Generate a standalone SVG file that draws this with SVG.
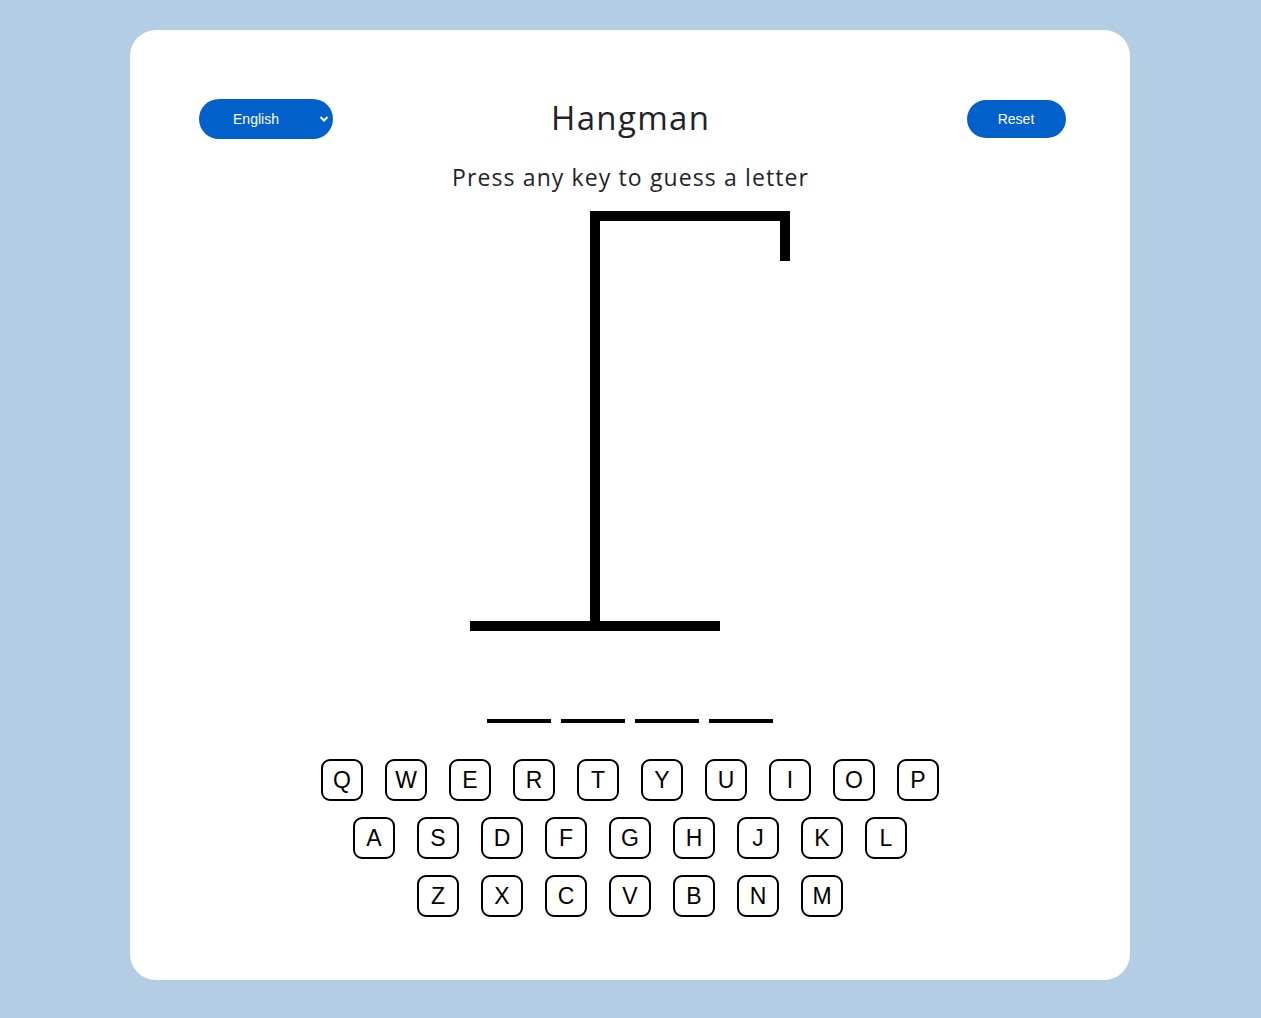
<svg xmlns="http://www.w3.org/2000/svg" width="1261" height="1018" viewBox="0 0 1261 1018">
<style>
.btn{fill:#0160c9}
.btxt{font-family:"Liberation Sans",Arial,sans-serif;font-size:14px;fill:#fff;text-anchor:middle}
.key rect{fill:#fff;stroke:#000;stroke-width:2}
.key text{font-family:"Liberation Sans",Arial,sans-serif;font-size:23px;fill:#000;text-anchor:middle}
.bar{fill:#000}
</style>
<rect x="0" y="0" width="1261" height="1018" fill="#b3cee4"/>
<rect x="130" y="30" width="1000" height="950" rx="26" fill="#fff"/>
<g id="language-select">
<rect class="btn" x="199" y="99" width="134" height="40" rx="20"/>
<text class="btxt" x="256" y="124">English</text>
<path d="M320.5 117 L324 120.5 L327.5 117" fill="none" stroke="#fff" stroke-width="2"/>
</g>
<g id="reset-button">
<rect class="btn" x="967" y="100" width="99" height="38" rx="19"/>
<text class="btxt" x="1016" y="124">Reset</text>
</g>
<g id="title">
<text x="630" y="130" font-family="'Open Sans','Noto Sans',sans-serif" font-size="33" fill="#1f2328" text-anchor="middle" textLength="158" lengthAdjust="spacing">Hangman</text>
</g>
<g id="subtitle">
<text x="630" y="186" font-family="'Open Sans','Noto Sans',sans-serif" font-size="23" fill="#1f2328" text-anchor="middle" textLength="356" lengthAdjust="spacing">Press any key to guess a letter</text>
</g>
<g id="gallows">
<rect class="bar" x="470" y="621" width="250" height="10"/>
<rect class="bar" x="590" y="211" width="10" height="412"/>
<rect class="bar" x="590" y="211" width="200" height="10"/>
<rect class="bar" x="780" y="211" width="10" height="50"/>
</g>
<g id="word-blanks">
<rect class="bar" x="487" y="719" width="64" height="4"/>
<rect class="bar" x="561" y="719" width="64" height="4"/>
<rect class="bar" x="635" y="719" width="64" height="4"/>
<rect class="bar" x="709" y="719" width="64" height="4"/>
</g>
<g id="keyboard">
<g id="key-Q" class="key"><rect x="322" y="760" width="40" height="40" rx="8"/><text x="342" y="788">Q</text></g>
<g id="key-W" class="key"><rect x="386" y="760" width="40" height="40" rx="8"/><text x="406" y="788">W</text></g>
<g id="key-E" class="key"><rect x="450" y="760" width="40" height="40" rx="8"/><text x="470" y="788">E</text></g>
<g id="key-R" class="key"><rect x="514" y="760" width="40" height="40" rx="8"/><text x="534" y="788">R</text></g>
<g id="key-T" class="key"><rect x="578" y="760" width="40" height="40" rx="8"/><text x="598" y="788">T</text></g>
<g id="key-Y" class="key"><rect x="642" y="760" width="40" height="40" rx="8"/><text x="662" y="788">Y</text></g>
<g id="key-U" class="key"><rect x="706" y="760" width="40" height="40" rx="8"/><text x="726" y="788">U</text></g>
<g id="key-I" class="key"><rect x="770" y="760" width="40" height="40" rx="8"/><text x="790" y="788">I</text></g>
<g id="key-O" class="key"><rect x="834" y="760" width="40" height="40" rx="8"/><text x="854" y="788">O</text></g>
<g id="key-P" class="key"><rect x="898" y="760" width="40" height="40" rx="8"/><text x="918" y="788">P</text></g>
<g id="key-A" class="key"><rect x="354" y="818" width="40" height="40" rx="8"/><text x="374" y="846">A</text></g>
<g id="key-S" class="key"><rect x="418" y="818" width="40" height="40" rx="8"/><text x="438" y="846">S</text></g>
<g id="key-D" class="key"><rect x="482" y="818" width="40" height="40" rx="8"/><text x="502" y="846">D</text></g>
<g id="key-F" class="key"><rect x="546" y="818" width="40" height="40" rx="8"/><text x="566" y="846">F</text></g>
<g id="key-G" class="key"><rect x="610" y="818" width="40" height="40" rx="8"/><text x="630" y="846">G</text></g>
<g id="key-H" class="key"><rect x="674" y="818" width="40" height="40" rx="8"/><text x="694" y="846">H</text></g>
<g id="key-J" class="key"><rect x="738" y="818" width="40" height="40" rx="8"/><text x="758" y="846">J</text></g>
<g id="key-K" class="key"><rect x="802" y="818" width="40" height="40" rx="8"/><text x="822" y="846">K</text></g>
<g id="key-L" class="key"><rect x="866" y="818" width="40" height="40" rx="8"/><text x="886" y="846">L</text></g>
<g id="key-Z" class="key"><rect x="418" y="876" width="40" height="40" rx="8"/><text x="438" y="904">Z</text></g>
<g id="key-X" class="key"><rect x="482" y="876" width="40" height="40" rx="8"/><text x="502" y="904">X</text></g>
<g id="key-C" class="key"><rect x="546" y="876" width="40" height="40" rx="8"/><text x="566" y="904">C</text></g>
<g id="key-V" class="key"><rect x="610" y="876" width="40" height="40" rx="8"/><text x="630" y="904">V</text></g>
<g id="key-B" class="key"><rect x="674" y="876" width="40" height="40" rx="8"/><text x="694" y="904">B</text></g>
<g id="key-N" class="key"><rect x="738" y="876" width="40" height="40" rx="8"/><text x="758" y="904">N</text></g>
<g id="key-M" class="key"><rect x="802" y="876" width="40" height="40" rx="8"/><text x="822" y="904">M</text></g>
</g>
</svg>
